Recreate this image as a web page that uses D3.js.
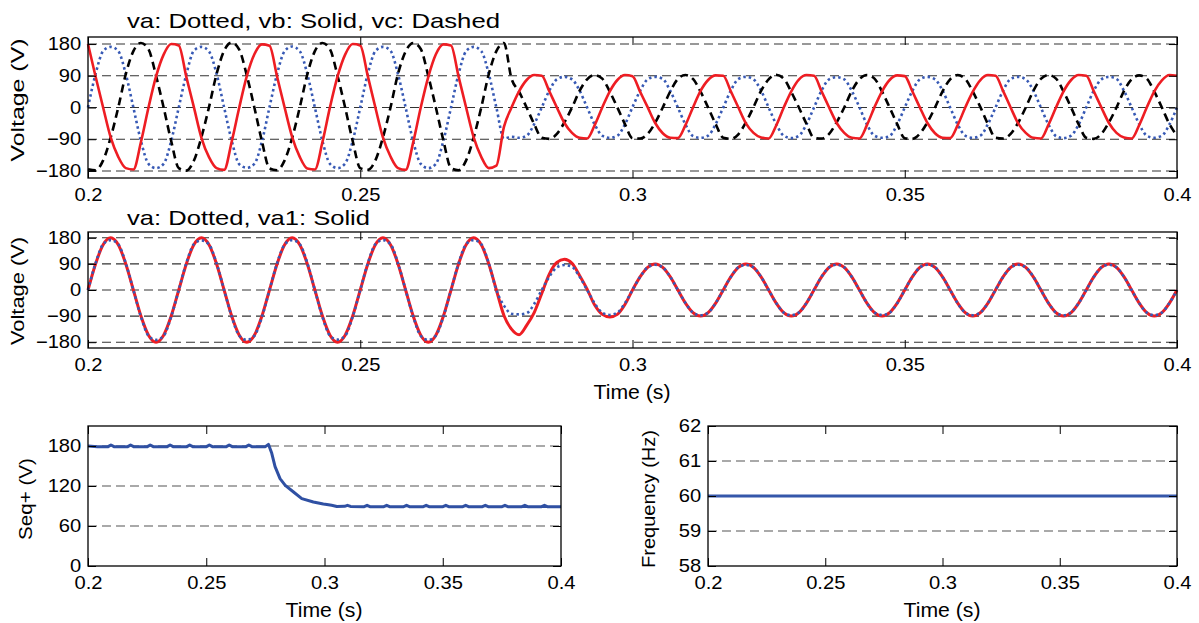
<!DOCTYPE html>
<html><head><meta charset="utf-8">
<script src="https://cdn.jsdelivr.net/npm/d3@7"></script>
<style>
body{margin:0;background:#fff;}
svg{display:block;}
</style></head><body>
<svg id="chart" width="1199" height="623"></svg>
<script>
// ---------- data ----------
const xTicks = [0.2, 0.25, 0.3, 0.35, 0.4];
const xTickLabels = ["0.2", "0.25", "0.3", "0.35", "0.4"];
const voltTicks = [-180, -90, 0, 90, 180];
const seqTicks = [0, 60, 120, 180];
const freqTicks = [58, 59, 60, 61, 62];

// waveforms are read at a fixed sampling grid starting at 0.2 s, one sample every 1/720 s
const tStart = 0.2, tStep = 1 / 720;

// top panel: va (dotted), vb (solid), vc (dashed)
const va = [
  0, 95, 160, 172, 160, 95, 0, -95, -160, -172, -160, -95,
  0, 94, 161, 172, 159, 96, 0, -94, -161, -171, -160, -96,
  1, 95, 160, 173, 160, 95, 0, -95, -160, -172, -159, -95,
  0, 96, 160, 172, 161, 94, 0, -96, -160, -172, -160, -94,
  0, 95, 160, 172, 160, 95, 0, -88,
  -83, -86, -80, -47,
  0, 48, 80, 87, 80, 48, 0, -48, -80, -86, -80, -48,
  1, 47, 80, 87, 81, 47, 0, -48, -81, -86, -80, -47,
  0, 48, 81, 87, 80, 48, 0, -47, -80, -87, -80, -48,
  0, 48, 80, 86, 80, 47, 1, -48, -80, -86, -81, -48,
  0, 47, 80, 87, 80, 48, 0, -48, -80, -86, -80, -47,
  0, 48, 81, 87, 80, 48, 0, -48, -81, -87, -80, -48,
  0, 48, 80, 87, 81, 47, 0, -47, -80, -86, -80, -48,
  0
];
const vb = [
  180, 88, 0, -85, -140, -172, -176, -98, 0, 88, 150, 180,
  176, 87, 1, -86, -141, -172, -177, -97, 0, 89, 151, 179,
  175, 88, 0, -84, -140, -173, -176, -98, 1, 88, 150, 180,
  176, 89, 0, -85, -139, -172, -177, -99, 0, 87, 151, 179,
  176, 88, 0, -85, -140, -172, -165, -55,
  0, 46, 78, 92,
  90, 46, 0, -44, -72, -86, -88, -50, 0, 46, 78, 92,
  89, 45, 1, -44, -73, -86, -87, -50, 0, 47, 78, 91,
  90, 46, 0, -45, -72, -85, -88, -51, 0, 46, 79, 92,
  90, 46, 0, -44, -72, -86, -88, -50, 1, 46, 78, 91,
  89, 46, 0, -44, -73, -86, -87, -50, 0, 45, 78, 92,
  90, 47, 0, -45, -72, -86, -88, -49, 0, 46, 78, 92,
  90, 46, 0, -44, -72, -85, -88, -50, 0, 46, 77, 92,
  90
];
const vc = [
  -175, -178, -150, -85, 0, 95, 160, 183, 165, 90, 0, -95,
  -172, -179, -151, -84, 1, 95, 161, 184, 164, 91, 0, -96,
  -173, -178, -150, -86, 0, 94, 160, 183, 165, 90, 0, -95,
  -172, -177, -150, -85, 0, 96, 159, 183, 166, 89, 0, -94,
  -172, -178, -150, -85, 0, 95, 160, 183,
  82, 45, 0, -47,
  -86, -89, -75, -42, 0, 47, 80, 92, 82, 45, 0, -47,
  -87, -88, -75, -43, 0, 46, 81, 92, 81, 45, 0, -47,
  -86, -89, -76, -42, 1, 47, 80, 93, 82, 44, 0, -46,
  -86, -88, -75, -42, 0, 47, 80, 92, 82, 45, 0, -47,
  -87, -89, -74, -42, 0, 46, 80, 92, 81, 45, 1, -47,
  -86, -88, -75, -43, 0, 47, 81, 92, 82, 45, 0, -48,
  -86, -89, -75, -42, 0, 47, 80, 91, 82, 45, 0, -47,
  -80
];

// middle panel: va (dotted) and va1 (solid)
const vaMid = [
  0, 92, 158, 172, 158, 92, 0, -92, -158, -172, -158, -92,
  0, 93, 158, 171, 157, 92, 0, -92, -157, -172, -158, -93,
  0, 92, 157, 172, 158, 93, 0, -93, -158, -171, -158, -92,
  0, 92, 158, 172, 158, 92, 0, -92, -158, -172, -157, -92,
  0, 92, 158, 172, 158, 92, 0,
  -54, -82, -84, -80, -48, 0, 46, 78, 86, 80, 46, 0, -46, -78, -86, -78, -46,
  0, 45, 78, 87, 78, 45, 0, -45, -78, -87, -78, -45,
  0, 45, 78, 86, 78, 45, 0, -45, -78, -87, -78, -45,
  0, 46, 78, 87, 78, 45, 0, -45, -78, -86, -78, -46,
  0, 45, 78, 87, 78, 45, 0, -46, -78, -87, -78, -45,
  0, 45, 77, 87, 78, 46, 0, -45, -78, -87, -77, -45,
  0, 45, 78, 87, 78, 45, 0, -45, -78, -87, -78, -45,
  0
];
const va1 = [
  0, 90, 156, 180, 156, 90, 0, -90, -156, -180, -156, -90,
  0, 90, 156, 180, 156, 90, 0, -90, -156, -180, -156, -90,
  0, 90, 156, 180, 156, 90, 0, -90, -156, -180, -156, -90,
  0, 90, 156, 180, 156, 90, 0, -90, -156, -180, -156, -90,
  0, 90, 156, 180, 156, 90, 0,
  -88, -135, -154, -122, -78, -12, 55, 95, 106, 92, 50, 3, -52, -84, -93, -84, -50,
  0, 45, 78, 90, 78, 45, 0, -45, -78, -90, -78, -45,
  0, 45, 78, 90, 78, 45, 0, -45, -78, -90, -78, -45,
  0, 45, 78, 90, 78, 45, 0, -45, -78, -90, -78, -45,
  0, 45, 78, 90, 78, 45, 0, -45, -78, -90, -78, -45,
  0, 45, 78, 90, 78, 45, 0, -45, -78, -90, -78, -45,
  0, 45, 78, 90, 78, 45, 0, -45, -78, -90, -78, -45,
  0
];

// bottom-left: positive sequence magnitude
const seqT = [
  0.2000, 0.2040, 0.2085, 0.2097, 0.2110, 0.2168, 0.2180, 0.2193, 0.2251, 0.2263, 0.2276,
  0.2335, 0.2347, 0.2360, 0.2418, 0.2430, 0.2443, 0.2501, 0.2513, 0.2526, 0.2585, 0.2597,
  0.2610, 0.2668, 0.2680, 0.2693, 0.2750, 0.2763, 0.2777, 0.2791, 0.2812, 0.2834, 0.2869,
  0.2904, 0.2953, 0.2995, 0.3010, 0.3030, 0.3052, 0.3085, 0.3097, 0.3110,
  0.3168, 0.3180, 0.3192, 0.3251, 0.3263, 0.3275, 0.3335, 0.3347, 0.3359, 0.3418, 0.3430, 0.3442,
  0.3501, 0.3513, 0.3525, 0.3585, 0.3597, 0.3609, 0.3668, 0.3680, 0.3692, 0.3751, 0.3763, 0.3775,
  0.3835, 0.3847, 0.3859, 0.3918, 0.3930, 0.3942, 0.4000
];
const seqV = [
  180, 179, 179, 181.5, 179, 179, 181.5, 179, 179, 181.5, 179,
  179, 181.5, 179, 179, 181.5, 179, 179, 181.5, 179, 179, 181.5,
  179, 179, 181.5, 179, 179, 182.5, 169, 149, 131, 121, 111,
  101, 96, 93, 92.3, 91, 89.3, 89.5, 91, 89.3,
  89, 91, 89, 89, 91, 89, 89, 91, 89, 89, 91, 89,
  89, 91, 89, 89, 91, 89, 89, 91, 89, 89, 91, 89,
  89, 91, 89, 89, 91, 89, 89
];

// bottom-right: frequency
const freqT = [0.2, 0.4];
const freqV = [60, 60];

// ---------- drawing ----------
const FONT = '"Liberation Sans", Arial, Helvetica, sans-serif';
const svg = d3.select("#chart").attr("font-family", FONT);

function makePanel(p) {
  const x = d3.scaleLinear().domain([0.2, 0.4]).range([p.left, p.right]);
  const y = d3.scaleLinear().domain(p.yDomain).range([p.bottom, p.top]);
  const g = svg.append("g");
  g.append("g").selectAll("line").data(p.grid).join("line")
    .attr("x1", p.left).attr("x2", p.right)
    .attr("y1", d => y(d)).attr("y2", d => y(d))
    .attr("stroke", p.gridColor).attr("stroke-width", 1.1)
    .attr("stroke-dasharray", "9,5");
  return { g, x, y, p };
}

function finishPanel(P) {
  const { x, y, p } = P;
  const style = sel => {
    sel.attr("font-size", null).attr("font-family", null);
    sel.select(".domain").remove();
    sel.selectAll(".tick line").attr("stroke", "#000").attr("stroke-width", 1);
    sel.selectAll(".tick text").attr("font-size", 18).attr("fill", "#000")
      .attr("transform", "scale(1.12,1)");
  };
  svg.append("g").attr("transform", `translate(0,${p.bottom})`)
    .call(d3.axisBottom(x).tickValues(xTicks).tickFormat((d, i) => xTickLabels[i])
      .tickSizeInner(-8).tickSizeOuter(0).tickPadding(10.5)).call(style);
  svg.append("g").attr("transform", `translate(0,${p.top})`)
    .call(d3.axisTop(x).tickValues(xTicks).tickFormat("")
      .tickSizeInner(-8).tickSizeOuter(0)).call(style);
  svg.append("g").attr("transform", `translate(${p.left},0)`)
    .call(d3.axisLeft(y).tickValues(p.yTicks).tickFormat(d3.format("d"))
      .tickSizeInner(-8).tickSizeOuter(0).tickPadding(6)).call(style);
  svg.append("g").attr("transform", `translate(${p.right},0)`)
    .call(d3.axisRight(y).tickValues(p.yTicks).tickFormat("").tickSizeInner(-8).tickSizeOuter(0)).call(style);
  svg.append("rect").attr("x", p.left).attr("y", p.top)
    .attr("width", p.right - p.left).attr("height", p.bottom - p.top)
    .attr("fill", "none").attr("stroke", "#000").attr("stroke-width", 1.3);
}

function sampledLine(P, values, color, width, dash) {
  const line = d3.line()
    .x((d, i) => P.x(tStart + i * tStep))
    .y(d => P.y(d))
    .curve(d3.curveMonotoneX);
  P.g.append("path").datum(values).attr("d", line)
    .attr("fill", "none").attr("stroke", color).attr("stroke-width", width)
    .attr("stroke-dasharray", dash || null).attr("stroke-linejoin", "round");
}

function xyLine(P, ts, vs, color, width) {
  const line = d3.line().x(d => P.x(d[0])).y(d => P.y(d[1]));
  P.g.append("path").datum(ts.map((t, i) => [t, vs[i]])).attr("d", line)
    .attr("fill", "none").attr("stroke", color).attr("stroke-width", width)
    .attr("stroke-linejoin", "round");
}

function label(x, y, str, size, len, rotate, anchor) {
  const t = svg.append("text").attr("font-size", size).attr("fill", "#000")
    .attr("text-anchor", anchor || "middle").text(str);
  if (len) t.attr("textLength", len).attr("lengthAdjust", "spacingAndGlyphs");
  t.attr("transform", `translate(${x},${y})` + (rotate ? " rotate(-90)" : ""));
  return t;
}

const RED = "#ee1d23", BLUE = "#3759b5", BLACK = "#000";

// top panel
const topP = makePanel({ left: 88, right: 1177, top: 37, bottom: 178, yDomain: [-200, 200],
  yTicks: voltTicks, grid: voltTicks, gridColor: "#333" });
sampledLine(topP, va, BLUE, 2.6, "2.5,3");
sampledLine(topP, vc, BLACK, 2.6, "8,5");
sampledLine(topP, vb, RED, 2.6);
finishPanel(topP);
label(127, 28, "va: Dotted, vb: Solid, vc: Dashed", 21, 373, false, "start");
label(24, 100, "Voltage (V)", 19, 123, true);

// middle panel
const midP = makePanel({ left: 88, right: 1177, top: 232, bottom: 348, yDomain: [-200, 200],
  yTicks: voltTicks, grid: voltTicks, gridColor: "#333" });
sampledLine(midP, va1, RED, 3);
sampledLine(midP, vaMid, BLUE, 2.6, "2.5,3");
finishPanel(midP);
label(127, 225, "va: Dotted, va1: Solid", 21, 243, false, "start");
label(24, 291, "Voltage (V)", 19, 108, true);
label(632, 399, "Time (s)", 20, 77);

// bottom-left panel
const seqP = makePanel({ left: 88, right: 561, top: 426, bottom: 566, yDomain: [0, 210],
  yTicks: seqTicks, grid: [60, 120, 180], gridColor: "#555" });
xyLine(seqP, seqT, seqV, "#2f50a3", 3);
finishPanel(seqP);
label(32, 499, "Seq+ (V)", 19, 82, true);
label(324, 617, "Time (s)", 20, 77);

// bottom-right panel
const frqP = makePanel({ left: 708, right: 1177, top: 426, bottom: 566, yDomain: [58, 62],
  yTicks: freqTicks, grid: [59, 60, 61], gridColor: "#555" });
xyLine(frqP, freqT, freqV, "#3557aa", 3);
finishPanel(frqP);
label(655, 499, "Frequency (Hz)", 19, 138, true);
label(942, 617, "Time (s)", 20, 77);
</script>
</body></html>
